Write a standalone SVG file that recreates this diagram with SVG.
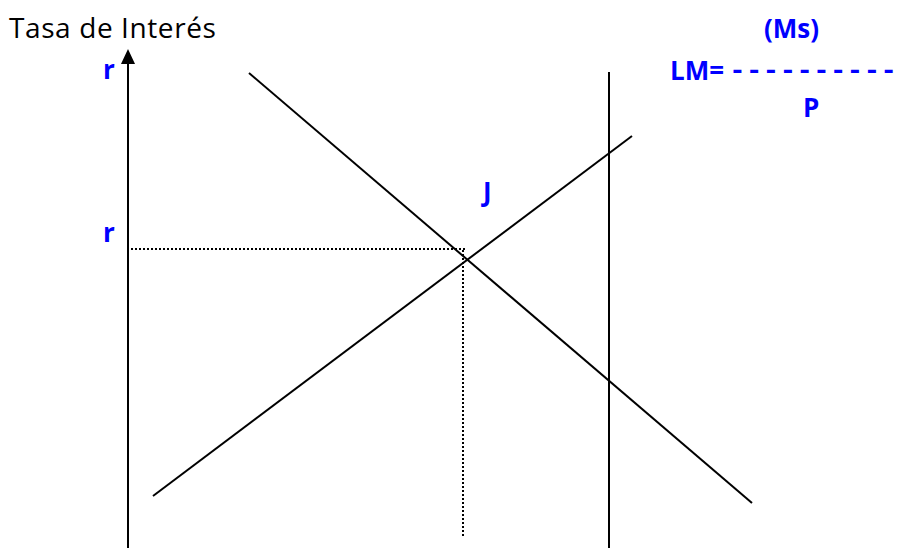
<svg xmlns="http://www.w3.org/2000/svg" width="902" height="548" viewBox="0 0 902 548">
<style>
.ln{stroke:#000;stroke-width:2;fill:none}
.dot{stroke:#000;stroke-width:2;stroke-dasharray:2 2;fill:none}
.bl{font-family:"Comic Sans MS","Open Sans",sans-serif;font-weight:bold;fill:#0000ff;font-size:26px}
.dash{font-family:"Liberation Mono",monospace;font-weight:bold;fill:#0000ff;font-size:28px}
.tt{font-family:"Comic Sans MS","Open Sans",sans-serif;fill:#000;font-size:28px;letter-spacing:0.6px}
</style>
<rect width="902" height="548" fill="#fff"/>
<g id="axis">
<line class="ln" x1="128" y1="548" x2="128" y2="64"/>
<path d="M121,64 L128,49 L135,64 Z" fill="#000"/>
</g>
<g id="connectors">
<line class="ln" x1="249" y1="73" x2="752" y2="503"/>
<line class="ln" x1="153" y1="496" x2="632" y2="136"/>
<line class="ln" x1="609" y1="72" x2="609" y2="548"/>
<line class="dot" x1="131" y1="249" x2="465" y2="249"/>
<line class="dot" x1="463" y1="250" x2="463" y2="536"/>
</g>
<g id="labels">
<text class="tt" x="9" y="38">Tasa de Interés</text>
<text class="bl" x="103" y="79">r</text>
<text class="bl" x="103" y="242">r</text>
<text class="bl" x="483" y="201">J</text>
<text class="bl" x="764" y="38">(Ms)</text>
<text class="bl" x="670" y="80">LM=</text>
<text class="dash" x="729" y="79">----------</text>
<text class="bl" x="803" y="117">P</text>
</g>
</svg>
